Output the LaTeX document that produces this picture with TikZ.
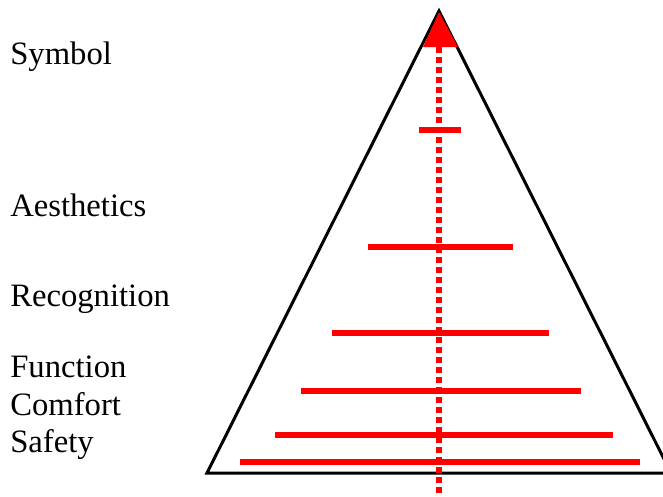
\documentclass[tikz,border=0pt]{standalone}
\usepackage{fontspec}
\setmainfont{Liberation Serif}
\usetikzlibrary{positioning}

\begin{document}
\begin{tikzpicture}[x=0.75pt, y=-0.75pt,
    level/.style={draw=red, line width=4.5pt},
    tag/.style={anchor=base west, inner sep=0pt, font=\fontsize{24.5}{27}\selectfont}]
      \clip (0,0) rectangle (663,496);
      % pyramid
      \coordinate (apex) at (439,11);
      \coordinate (baseL) at (207,473);
      \coordinate (baseR) at (671,473);
      \draw[line width=2.25pt] (baseL) -- (apex) -- (baseR) -- cycle;
      % axis with arrow head
      \coordinate (axisTop) at (439,47);
      \coordinate (axisEnd) at (439,500);
      \draw[red, line width=4.5pt, dash pattern=on 4.5pt off 3pt] (axisTop) -- (axisEnd);
      \fill[red] (439,12) -- (423,47) -- (458,47) -- cycle;
      % levels
      \foreach \y/\l/\r [count=\i] in {130/419/461, 247/368/513, 333/332/549,
          391/301/581, 435/275/613, 462/240/640} {
        \coordinate (left\i) at (\l,\y);
        \coordinate (right\i) at (\r,\y);
        \draw[level] (left\i) -- (right\i);
      }
      % labels
      \node[tag] (symbol) at (10,64) {Symbol};
      \node[tag] (aesthetics) at (10,216) {Aesthetics};
      \node[tag] (recognition) at (10,306) {Recognition};
      \node[tag] (function) at (10,377) {Function};
      \node[tag] (comfort) at (10,415) {Comfort};
      \node[tag] (safety) at (10,452) {Safety};
    \end{tikzpicture}
\end{document}
